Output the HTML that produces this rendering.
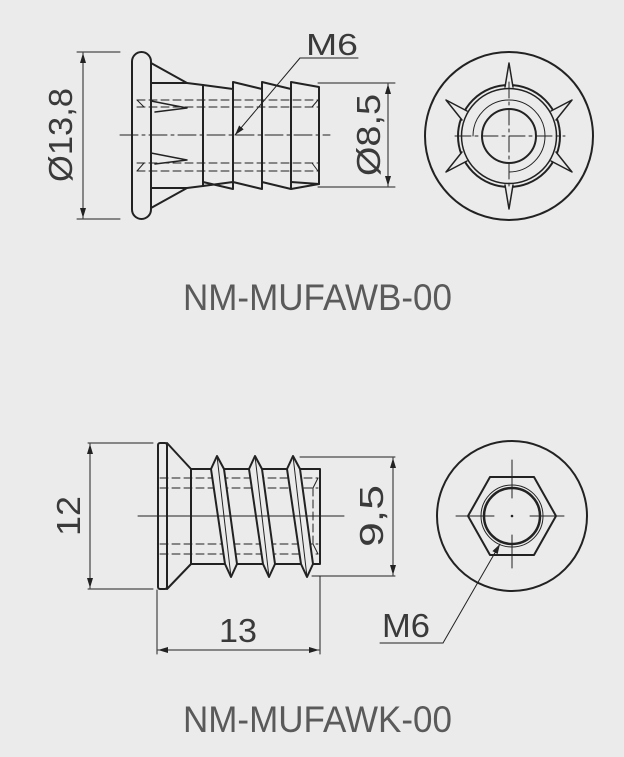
<!DOCTYPE html>
<html><head><meta charset="utf-8"><style>
html,body{margin:0;padding:0;background:#ebebeb;}
svg{display:block;}
text{font-family:"Liberation Sans",sans-serif;}
</style></head><body>
<svg width="624" height="757" viewBox="0 0 624 757" xmlns="http://www.w3.org/2000/svg">
<rect width="624" height="757" fill="#ebebeb"/>
<defs>
<marker id="ar" viewBox="0 0 10 10" refX="10" refY="5" markerWidth="10" markerHeight="10" markerUnits="userSpaceOnUse" orient="auto-start-reverse"><path d="M0,2 L10,5 L0,8 z" fill="#222"/></marker>
</defs>
<g stroke="#222" fill="none" stroke-linecap="round" stroke-linejoin="round">
<!-- TOP LEFT -->
<line x1="77" y1="52" x2="120" y2="52" stroke-width="1"/>
<line x1="77" y1="219" x2="120" y2="219" stroke-width="1"/>
<line x1="83" y1="53" x2="83" y2="218" stroke-width="1" marker-start="url(#ar)" marker-end="url(#ar)"/>
<rect x="132" y="52" width="19" height="167" rx="9.5" stroke-width="2"/>
<path d="M151,63 L187,83 L151,83 M151,208 L187,188 L151,188" stroke-width="2"/>
<path d="M187,83 L203,85 L203,186 L187,188" stroke-width="2"/>
<path d="M203,85 L233,89 M233,82 L233,189 M233,82 L262,89 M262,82 L262,189 M262,82 L291,89 M291,82 L291,189 M291,82 L319,87 L319,184 L291,189 M262,189 L233,182 L203,186 M291,189 L262,182 M233,189 L203,182" stroke-width="2"/>
<path d="M319,184 L291,182" stroke-width="2"/>
<g stroke-width="1" stroke-dasharray="8,4">
<line x1="137" y1="100" x2="318" y2="100"/><line x1="137" y1="107" x2="318" y2="107"/>
<line x1="137" y1="163" x2="318" y2="163"/><line x1="137" y1="171" x2="318" y2="171"/>
</g>
<path d="M137,100 L144,107 M318,100 L312,107 M137,171 L144,163 M318,171 L312,163" stroke-width="1"/>
<path d="M151,101 L187,108 L155,112 M151,153 L187,160 L155,164" stroke-width="1.5"/>
<line x1="120" y1="135" x2="330" y2="135" stroke-width="1" stroke-dasharray="18,4,3,4"/>
<path d="M300,58 L358,58" stroke-width="1"/>
<line x1="300" y1="58" x2="235" y2="135" stroke-width="1" marker-end="url(#ar)"/>
<line x1="318" y1="83" x2="395" y2="83" stroke-width="1"/>
<line x1="318" y1="187" x2="395" y2="187" stroke-width="1"/>
<line x1="388" y1="84" x2="388" y2="186" stroke-width="1" marker-start="url(#ar)" marker-end="url(#ar)"/>
<!-- TOP RIGHT -->
<circle cx="509" cy="136" r="84" stroke-width="2"/>
<circle cx="509" cy="136" r="51" stroke-width="2"/>
<circle cx="509" cy="136" r="47.5" stroke-width="1.5"/>
<path d="M473,136 A36,36 0 1 1 509,172" stroke-width="1"/>
<circle cx="509" cy="136" r="27" stroke-width="2"/>
<g stroke-width="1.5" fill="#ebebeb">
<path d="M505,87 L509,63 L513,87"/><path d="M505,185 L509,209 L513,185"/>
<path d="M556,120 L572,100 L551,111"/>
<path d="M462,120 L446,100 L467,111"/>
<path d="M556,152 L572,172 L551,161"/>
<path d="M462,152 L446,172 L467,161"/>
</g>
<path d="M455,136 H565 M509,82 V190" stroke-width="1" stroke-dasharray="16,4,3,4"/>
<!-- BOTTOM LEFT -->
<line x1="88" y1="443" x2="153" y2="443" stroke-width="1"/>
<line x1="88" y1="589" x2="153" y2="589" stroke-width="1"/>
<line x1="90" y1="444" x2="90" y2="588" stroke-width="1" marker-start="url(#ar)" marker-end="url(#ar)"/>
<rect x="158" y="443" width="9" height="146" rx="2" stroke-width="2"/>
<path d="M167,443 L191,469 L191,564 L167,589" stroke-width="2"/>
<path d="M191,469 L320,469 L320,564 L191,564" stroke-width="2"/>
<g stroke-width="1" stroke-dasharray="8,4">
<line x1="160" y1="478" x2="318" y2="478"/><line x1="160" y1="488" x2="318" y2="488"/>
<line x1="160" y1="544" x2="318" y2="544"/><line x1="160" y1="554" x2="318" y2="554"/>
<line x1="313" y1="488" x2="313" y2="544"/>
</g>
<path d="M318,478 L313,488 M318,554 L313,544" stroke-width="1"/>
<g stroke-width="2" fill="#ebebeb">
<path d="M217,456 L224,469 L237,564 L231,577 L225,564 L211,469 Z"/>
<path d="M255,456 L262,469 L275,564 L269,577 L263,564 L249,469 Z"/>
<path d="M293,456 L300,469 L313,564 L307,577 L301,564 L287,469 Z"/>
</g>
<path d="M217,456 L231,577 M255,456 L269,577 M293,456 L307,577" stroke-width="1"/>
<line x1="138" y1="516" x2="344" y2="516" stroke-width="1"/>
<line x1="300" y1="457" x2="395" y2="457" stroke-width="1"/>
<line x1="312" y1="576" x2="395" y2="576" stroke-width="1"/>
<line x1="393" y1="458" x2="393" y2="575" stroke-width="1" marker-start="url(#ar)" marker-end="url(#ar)"/>
<line x1="157" y1="590" x2="157" y2="654" stroke-width="1"/>
<line x1="320" y1="576" x2="320" y2="654" stroke-width="1"/>
<line x1="158" y1="650" x2="319" y2="650" stroke-width="1" marker-start="url(#ar)" marker-end="url(#ar)"/>
<!-- BOTTOM RIGHT -->
<circle cx="512" cy="516" r="75" stroke-width="2"/>
<path d="M468,516 L490,477 L534,477 L556,516 L534,555 L490,555 Z" stroke-width="2"/>
<circle cx="512" cy="516" r="31" stroke-width="1"/>
<circle cx="512" cy="516" r="28" stroke-width="2.5"/>
<path d="M456,516 H494 M530,516 H564 M512,460 V498 M512,535 V568" stroke-width="1"/>
<circle cx="512" cy="516" r="0.8" fill="#222" stroke-width="1"/>
<path d="M380,643 L443,643" stroke-width="1"/>
<line x1="443" y1="643" x2="500" y2="544" stroke-width="1" marker-end="url(#ar)"/>
</g>
<g fill="#3a3a3a">
<text x="358" y="55" font-size="31" text-anchor="end" textLength="52" lengthAdjust="spacingAndGlyphs">M6</text>
<text transform="translate(72,135) rotate(-90)" font-size="33" text-anchor="middle" textLength="94" lengthAdjust="spacingAndGlyphs">Ø13,8</text>
<text transform="translate(380,135) rotate(-90)" font-size="33" text-anchor="middle" textLength="82" lengthAdjust="spacingAndGlyphs">Ø8,5</text>
<text transform="translate(80,516) rotate(-90)" font-size="33" text-anchor="middle" textLength="40" lengthAdjust="spacingAndGlyphs">12</text>
<text transform="translate(383,516) rotate(-90)" font-size="33" text-anchor="middle" textLength="62" lengthAdjust="spacingAndGlyphs">9,5</text>
<text x="238" y="642" font-size="33" text-anchor="middle" textLength="38" lengthAdjust="spacingAndGlyphs">13</text>
<text x="382" y="637" font-size="33" textLength="48" lengthAdjust="spacingAndGlyphs">M6</text>
</g>
<g fill="#5a5a5a">
<text x="183" y="310" font-size="37" textLength="269" lengthAdjust="spacingAndGlyphs">NM-MUFAWB-00</text>
<text x="183" y="732" font-size="37" textLength="269" lengthAdjust="spacingAndGlyphs">NM-MUFAWK-00</text>
</g>
</svg>
</body></html>
